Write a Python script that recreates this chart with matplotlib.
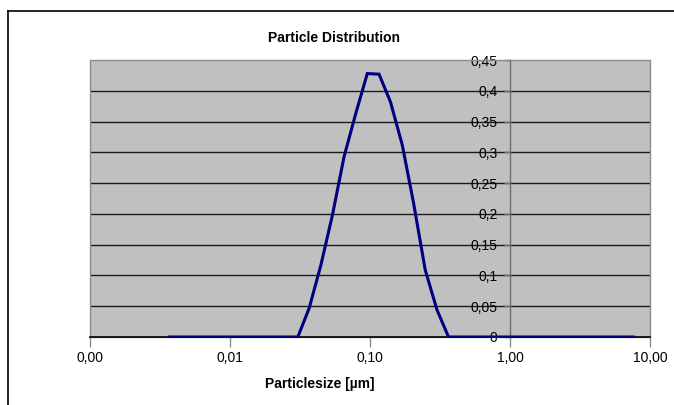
import matplotlib.pyplot as plt
import matplotlib.ticker as mticker
from matplotlib.patches import Rectangle
from matplotlib.lines import Line2D

plt.rcParams['font.family'] = ['Liberation Sans Narrow', 'Liberation Sans', 'DejaVu Sans']

# particle size classes [um] and distribution values
sizes = [0.0037, 0.0305, 0.0368, 0.0446, 0.0539, 0.0653, 0.0791, 0.0957,
         0.116, 0.140, 0.170, 0.205, 0.248, 0.301, 0.364, 7.6]
dist = [0.0, 0.0, 0.047, 0.117, 0.198, 0.293, 0.363, 0.428,
        0.427, 0.382, 0.312, 0.217, 0.109, 0.044, 0.0, 0.0]

x_ticks = [0.001, 0.01, 0.1, 1, 10]
x_labels = ['0,00', '0,01', '0,10', '1,00', '10,00']
y_ticks = [0, 0.05, 0.1, 0.15, 0.2, 0.25, 0.3, 0.35, 0.4, 0.45]
y_labels = ['0', '0,05', '0,1', '0,15', '0,2', '0,25', '0,3', '0,35', '0,4', '0,45']

fig = plt.figure(figsize=(6.74, 4.05), dpi=100)
ax = fig.add_axes([90 / 674, 1 - 337 / 405, 560 / 674, 277 / 405])

ax.set_xscale('log')
ax.set_xlim(0.001, 10)
ax.set_ylim(0, 0.45)
ax.set_facecolor('#c0c0c0')

for v in y_ticks[1:-1]:
    ax.axhline(v, color='#1a1a1a', lw=1.0, zorder=1)

ax.plot(sizes, dist, color='#000080', lw=2.2, zorder=3, solid_joinstyle='miter')

# plot area frame
ax.add_patch(Rectangle((0, 0), 1, 1, transform=ax.transAxes, fill=False,
                       edgecolor='#8c8c8c', lw=1.0, zorder=2, clip_on=False))
for s in ['top', 'right']:
    ax.spines[s].set_visible(False)
ax.spines['bottom'].set_color('#000000')
ax.spines['bottom'].set_linewidth(1.2)
ax.spines['bottom'].set_zorder(2.5)
ax.spines['left'].set_position(('data', 1))
ax.spines['left'].set_color('#6e6e6e')
ax.spines['left'].set_linewidth(1.0)

ax.set_xticks(x_ticks)
ax.set_xticklabels(x_labels)
ax.xaxis.set_minor_locator(mticker.NullLocator())
ax.set_yticks(y_ticks)
ax.set_yticklabels(y_labels)
ax.tick_params(axis='x', direction='out', length=7, color='#8c8c8c', width=1,
               labelsize=10, pad=3)
ax.tick_params(axis='y', direction='out', length=4, color='#6e6e6e', width=1,
               labelsize=10, pad=5)

fig.text(334 / 674, 1 - 38 / 405, 'Particle Distribution', ha='center', va='center',
         fontsize=10, fontweight='bold')
fig.text(320 / 674, 1 - 384 / 405, 'Particlesize [µm]', ha='center', va='center',
         fontsize=10, fontweight='bold')

# outer chart border
fig.add_artist(Line2D([8 / 674, 8 / 674], [0, 1 - 11 / 405], color='black', lw=1.2,
                      transform=fig.transFigure))
fig.add_artist(Line2D([8 / 674, 1], [1 - 11 / 405, 1 - 11 / 405], color='black', lw=1.2,
                      transform=fig.transFigure))

fig.savefig('out.png', dpi=100)
